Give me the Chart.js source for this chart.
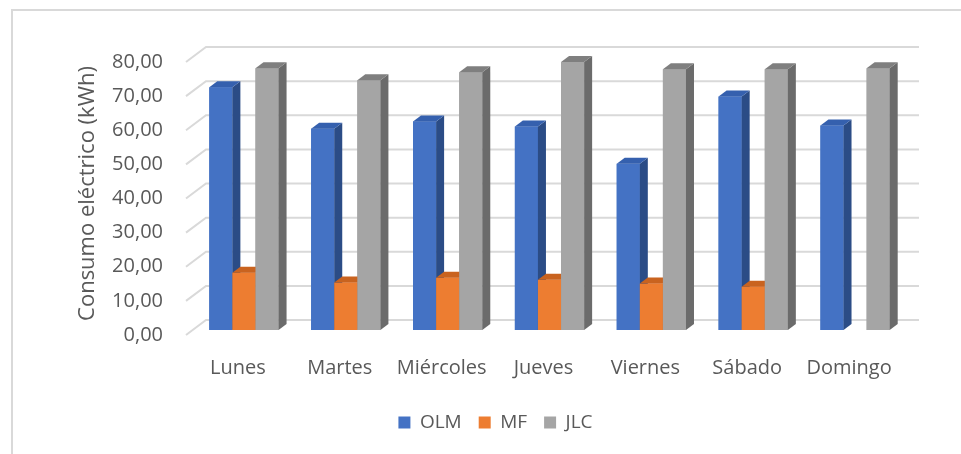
<!DOCTYPE html>
<html>
<head>
<meta charset="utf-8">
<script src="https://cdn.jsdelivr.net/npm/chart.js@4.4.1/dist/chart.umd.min.js"></script>
<style>
  html, body { margin: 0; padding: 0; background: #fff; }
</style>
</head>
<body>
<canvas id="grafico" width="961" height="454"></canvas>
<script>
// Datos
const dias = ['Lunes', 'Martes', 'Miércoles', 'Jueves', 'Viernes', 'Sábado', 'Domingo'];
const olm = [71.1, 59.0, 61.1, 59.6, 48.7, 68.4, 59.9];
const mf = [16.8, 13.9, 15.3, 14.7, 13.6, 12.7, 0];
const jlc = [76.7, 73.2, 75.5, 78.5, 76.4, 76.4, 76.7];
const series = ['OLM', 'MF', 'JLC'];

// Colores: frente, lado y tapa de cada serie
const colores = [
    { frente: '#4472C4', lado: '#2B4C86', tapa: '#3560AE' },
    { frente: '#ED7D31', lado: '#B55A1C', tapa: '#C9631F' },
    { frente: '#A5A5A5', lado: '#6B6B6B', tapa: '#7F7F7F' }
];

const texto = '#595959';
const fuente = "'Open Sans', sans-serif";

// Profundidad de las barras y de las paredes (efecto 3D)
const barraDx = 8, barraDy = 6;
const frenteDx = -7, frenteDy = 5;
const fondoDx = 13, fondoDy = -10;

const efecto3D = {
    id: 'efecto3D',
    beforeDraw(chart) {
        // marco del gráfico
        const ctx = chart.ctx;
        ctx.save();
        ctx.strokeStyle = '#D9D9D9';
        ctx.lineWidth = 2;
        ctx.beginPath();
        ctx.moveTo(12, chart.height);
        ctx.lineTo(12, 10);
        ctx.lineTo(chart.width, 10);
        ctx.stroke();
        ctx.restore();
    },
    beforeDatasetsDraw(chart) {
        // líneas de la cuadrícula en la pared del fondo y la pared lateral
        const ctx = chart.ctx;
        const { left, right } = chart.chartArea;
        const y = chart.scales.y;
        ctx.save();
        ctx.strokeStyle = '#D9D9D9';
        ctx.lineWidth = 2;
        y.ticks.forEach(t => {
            const py = y.getPixelForValue(t.value);
            ctx.beginPath();
            ctx.moveTo(left + frenteDx, py + frenteDy);
            ctx.lineTo(left + fondoDx, py + fondoDy);
            ctx.lineTo(right + fondoDx, py + fondoDy);
            ctx.stroke();
        });
        ctx.restore();
    },
    afterDatasetsDraw(chart) {
        // redibujar cada barra de izquierda a derecha con su lado y su tapa
        const ctx = chart.ctx;
        const metas = chart.data.datasets.map((d, i) => chart.getDatasetMeta(i));
        ctx.save();
        for (let j = 0; j < dias.length; j++) {
            metas.forEach((meta, i) => {
                const valor = chart.data.datasets[i].data[j];
                if (!valor) return;
                const el = meta.data[j];
                const izq = el.x - el.width / 2;
                const der = el.x + el.width / 2;
                const arriba = el.y;
                const base = el.base;
                const c = colores[i];

                ctx.fillStyle = c.frente;
                ctx.fillRect(izq, arriba, der - izq, base - arriba);

                ctx.fillStyle = c.lado;
                ctx.beginPath();
                ctx.moveTo(der, arriba);
                ctx.lineTo(der + barraDx, arriba - barraDy);
                ctx.lineTo(der + barraDx, base - barraDy);
                ctx.lineTo(der, base);
                ctx.closePath();
                ctx.fill();

                ctx.fillStyle = c.tapa;
                ctx.beginPath();
                ctx.moveTo(izq, arriba);
                ctx.lineTo(izq + barraDx, arriba - barraDy);
                ctx.lineTo(der + barraDx, arriba - barraDy);
                ctx.lineTo(der, arriba);
                ctx.closePath();
                ctx.fill();
            });
        }
        ctx.restore();
    }
};

new Chart(document.getElementById('grafico'), {
    type: 'bar',
    data: {
        labels: dias,
        datasets: [olm, mf, jlc].map((valores, i) => ({
            label: series[i],
            data: valores,
            backgroundColor: colores[i].frente,
            borderWidth: 0,
            categoryPercentage: 0.68,
            barPercentage: 1.0
        }))
    },
    options: {
        responsive: false,
        animation: false,
        layout: { padding: { left: 30, right: 0, top: 57, bottom: 12 } },
        plugins: {
            tooltip: { enabled: false },
            legend: {
                position: 'bottom',
                labels: {
                    boxWidth: 12,
                    boxHeight: 12,
                    padding: 17,
                    color: texto,
                    font: { family: fuente, size: 19 }
                }
            }
        },
        scales: {
            x: {
                grid: { display: false },
                border: { display: false },
                ticks: {
                    color: texto,
                    font: { family: fuente, size: 20 },
                    padding: 18,
                    labelOffset: -6,
                    maxRotation: 0
                },
                afterFit: s => { s.height = 66; }
            },
            y: {
                min: 0,
                max: 80,
                grid: { display: false },
                border: { display: false },
                ticks: {
                    stepSize: 10,
                    color: texto,
                    font: { family: fuente, size: 20 },
                    padding: 22,
                    labelOffset: 5,
                    callback: v => v.toFixed(2).replace('.', ',')
                },
                title: {
                    display: true,
                    text: 'Consumo eléctrico (kWh)',
                    color: texto,
                    font: { family: fuente, size: 22 },
                    padding: { top: 45, bottom: 0 }
                },
                afterFit: s => { s.width = 163; }
            },
            y2: {
                position: 'right',
                grid: { display: false },
                border: { display: false },
                ticks: { display: false },
                afterFit: s => { s.width = 55; }
            }
        }
    },
    plugins: [efecto3D]
});
</script>
</body>
</html>
